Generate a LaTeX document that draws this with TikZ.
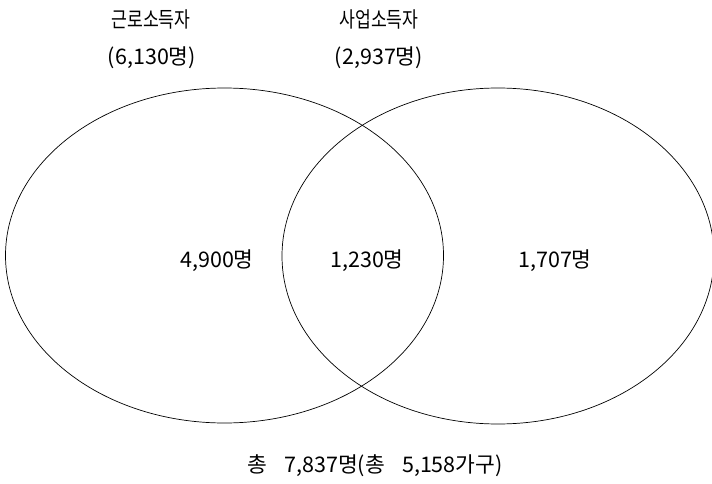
\documentclass[tikz,border=0pt]{standalone}
\usepackage{fontspec}
\usepackage{graphicx}
\setmainfont{Noto Sans CJK KR}
\newcommand{\narrowtxt}[1]{\scalebox{0.8}[1]{#1}}
\begin{document}
\begin{tikzpicture}[x=1pt,y=-1pt,
  lbl/.style={font=\fontsize{21.5}{25}\selectfont, inner sep=0pt, anchor=center},
  setshape/.style={draw=black, line width=0.7pt}]
\useasboundingbox (0,0) rectangle (712,484);
\draw[setshape] (224.5,255.5) ellipse [x radius=219, y radius=167.5];
\draw[setshape] (498,256) ellipse [x radius=216, y radius=168];
\node[lbl] (t1) at (151,19) {\narrowtxt{근로소득자}};
\node[lbl] (n1) at (152,58) {(6,130명)};
\node[lbl] (t2) at (379,19) {\narrowtxt{사업소득자}};
\node[lbl] (n2) at (379,58) {(2,937명)};
\node[lbl] (a) at (217,261) {4,900명};
\node[lbl] (b) at (367,261) {1,230명};
\node[lbl] (c) at (555,261) {1,707명};
\node[lbl] (tot) at (375,466) {총\hspace{0.8em}7,837명(총\hspace{0.8em}5,158가구)};
\end{tikzpicture}
\end{document}
